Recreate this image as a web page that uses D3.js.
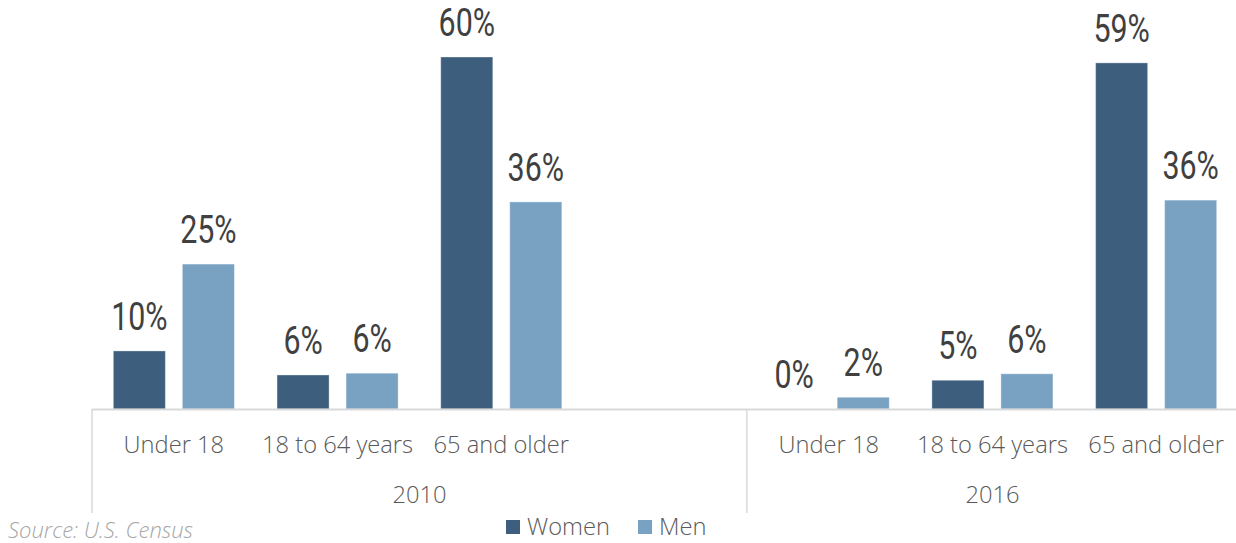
<!DOCTYPE html>
<html>
<head>
<meta charset="utf-8">
<script src="https://cdn.jsdelivr.net/npm/d3@7"></script>
<style>
  html, body { margin: 0; padding: 0; background: #fff; }
  svg { display: block; }
</style>
</head>
<body>
<svg id="chart" width="1236" height="543"></svg>
<script>
// ---- data ----
const years = ["2010", "2016"];
const categories2010 = ["Under 18", "18 to 64 years", "65 and older", ""];
const categories2016 = ["Under 18", "18 to 64 years", "65 and older"];
const series = ["Women", "Men"];
const women2010 = [9.9, 5.8, 60.0];
const men2010 = [24.7, 6.1, 35.3];
const women2016 = [0.0, 4.9, 59.0];
const men2016 = [2.0, 6.0, 35.6];
const labelsWomen2010 = ["10%", "6%", "60%"];
const labelsMen2010 = ["25%", "6%", "36%"];
const labelsWomen2016 = ["0%", "5%", "59%"];
const labelsMen2016 = ["2%", "6%", "36%"];
const sourceText = "Source: U.S. Census";

const colors = { Women: "#3d5f7d", Men: "#79a1c2" };

// build flat slot list
const slots = [];
categories2010.forEach(c => slots.push({ year: "2010", cat: c }));
categories2016.forEach(c => slots.push({ year: "2016", cat: c }));
const slotKey = d => d.year + "|" + d.cat;

const bars = [];
categories2010.forEach((c, i) => {
  if (i < women2010.length) {
    bars.push({ key: "2010|" + c, s: "Women", v: women2010[i], label: labelsWomen2010[i] });
    bars.push({ key: "2010|" + c, s: "Men", v: men2010[i], label: labelsMen2010[i] });
  }
});
categories2016.forEach((c, i) => {
  bars.push({ key: "2016|" + c, s: "Women", v: women2016[i], label: labelsWomen2016[i] });
  bars.push({ key: "2016|" + c, s: "Men", v: men2016[i], label: labelsMen2016[i] });
});

// ---- layout ----
const svg = d3.select("#chart");
const left = 92, right = 1238, baseY = 409, topY = 57;

const x = d3.scaleBand().domain(slots.map(slotKey)).range([left, right]).paddingInner(0).paddingOuter(0);
const xs = d3.scaleBand().domain(series).range([0, x.bandwidth()]).paddingInner(0.246).paddingOuter(0.309);
const y = d3.scaleLinear().domain([0, 60]).range([baseY, topY]);

// bars
svg.append("g").selectAll("rect").data(bars).join("rect")
  .attr("x", d => x(d.key) + xs(d.s))
  .attr("y", d => y(d.v))
  .attr("width", xs.bandwidth())
  .attr("height", d => baseY - y(d.v))
  .attr("fill", d => colors[d.s])
  .attr("stroke", "#ffffff")
  .attr("stroke-opacity", 0.35)
  .attr("stroke-width", 1);

// value labels (condensed look via horizontal scaling)
svg.append("g").selectAll("text").data(bars).join("text")
  .attr("transform", d => `translate(${x(d.key) + xs(d.s) + xs.bandwidth() / 2},${y(d.v) - 21}) scale(0.8,1)`)
  .attr("text-anchor", "middle")
  .attr("font-family", "Roboto, sans-serif")
  .attr("font-weight", 400)
  .attr("font-size", 38)
  .attr("fill", "#404040")
  .text(d => d.label);

// axis line
const gridColor = "#d9d9d9";
svg.append("line")
  .attr("x1", left).attr("x2", 1236)
  .attr("y1", baseY + 0.5).attr("y2", baseY + 0.5)
  .attr("stroke", gridColor).attr("stroke-width", 2);

// group separators
const groupStart = yr => x(slotKey(slots.find(s => s.year === yr)));
const groupEnd = yr => {
  const ss = slots.filter(s => s.year === yr);
  return x(slotKey(ss[ss.length - 1])) + x.bandwidth();
};
years.forEach(yr => {
  svg.append("line")
    .attr("x1", groupStart(yr)).attr("x2", groupStart(yr))
    .attr("y1", baseY).attr("y2", 513)
    .attr("stroke", gridColor).attr("stroke-width", 1.5);
});

// category labels
svg.append("g").selectAll("text").data(slots.filter(s => s.cat !== "")).join("text")
  .attr("x", d => x(slotKey(d)) + x.bandwidth() / 2)
  .attr("y", 453)
  .attr("text-anchor", "middle")
  .attr("font-family", "'Open Sans', sans-serif")
  .attr("font-weight", 300)
  .attr("font-size", 23.7)
  .attr("fill", "#595959")
  .text(d => d.cat);

// year labels
svg.append("g").selectAll("text").data(years).join("text")
  .attr("x", d => (groupStart(d) + groupEnd(d)) / 2)
  .attr("y", 503)
  .attr("text-anchor", "middle")
  .attr("font-family", "'Open Sans', sans-serif")
  .attr("font-weight", 300)
  .attr("font-size", 23.7)
  .attr("fill", "#595959")
  .text(d => d);

// legend
const legend = svg.append("g");
const legendX = { Women: 506, Men: 638 };
series.forEach(s => {
  legend.append("rect")
    .attr("x", legendX[s]).attr("y", 520)
    .attr("width", 14).attr("height", 14)
    .attr("fill", colors[s]);
  legend.append("text")
    .attr("x", legendX[s] + 21).attr("y", 535)
    .attr("font-family", "'Open Sans', sans-serif")
    .attr("font-weight", 300)
    .attr("font-size", 23.7)
    .attr("fill", "#595959")
    .text(s);
});

// source
svg.append("text")
  .attr("x", 8).attr("y", 538)
  .attr("font-family", "'Open Sans', sans-serif")
  .attr("font-style", "italic")
  .attr("font-weight", 300)
  .attr("font-size", 22)
  .attr("fill", "#a6a6a6")
  .text(sourceText);
</script>
</body>
</html>
